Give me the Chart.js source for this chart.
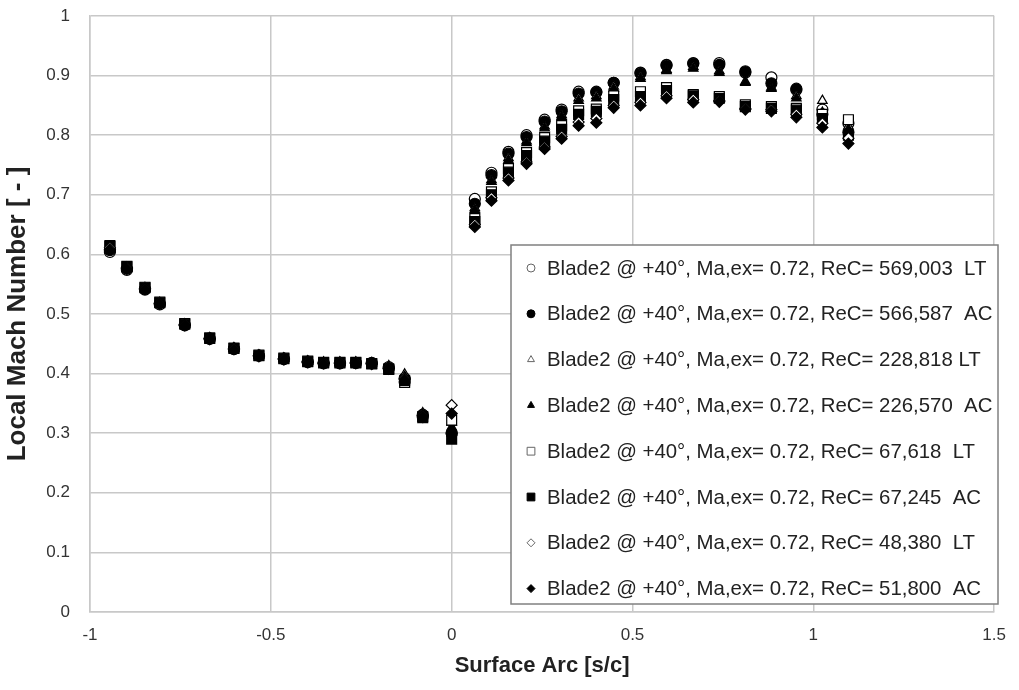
<!DOCTYPE html>
<html>
<head>
<meta charset="utf-8">
<script src="https://cdn.jsdelivr.net/npm/chart.js@4"></script>
<style>
  html, body { margin: 0; padding: 0; background: #fff; }
  #wrap { width: 1019px; height: 690px; position: relative; }
</style>
</head>
<body>
<div id="wrap"><canvas id="chart"></canvas></div>
<script>
// Local Mach number along the blade surface arc, 8 test runs
const arcX = [-0.945, -0.898, -0.848, -0.807, -0.738, -0.669, -0.602, -0.533, -0.464,
  -0.398, -0.354, -0.309, -0.265, -0.221, -0.174, -0.130, -0.080, 0.000,
  0.064, 0.110, 0.157, 0.207, 0.257, 0.304, 0.351, 0.400, 0.448,
  0.522, 0.594, 0.668, 0.740, 0.812, 0.884, 0.953, 1.025, 1.097];

const maLT569 = [0.604, 0.574, 0.541, 0.516, 0.481, 0.458, 0.441, 0.430, 0.424,
  0.419, 0.417, 0.417, 0.418, 0.418, 0.411, 0.386, 0.327, 0.300,
  0.693, 0.737, 0.772, 0.800, 0.826, 0.843, 0.873, 0.873, 0.888,
  0.905, 0.918, 0.921, 0.921, 0.905, 0.897, 0.876, 0.843, 0.820];
const maAC566 = [0.607, 0.576, 0.542, 0.518, 0.482, 0.459, 0.442, 0.430, 0.425,
  0.420, 0.418, 0.418, 0.418, 0.417, 0.409, 0.392, 0.331, 0.300,
  0.685, 0.733, 0.769, 0.797, 0.823, 0.840, 0.870, 0.872, 0.888,
  0.904, 0.917, 0.920, 0.918, 0.907, 0.887, 0.878, 0.835, 0.805];
const maLT228 = [0.612, 0.578, 0.544, 0.519, 0.483, 0.460, 0.443, 0.431, 0.426,
  0.421, 0.419, 0.419, 0.419, 0.418, 0.413, 0.399, 0.334, 0.318,
  0.678, 0.725, 0.762, 0.790, 0.815, 0.834, 0.862, 0.866, 0.882,
  0.898, 0.910, 0.915, 0.908, 0.890, 0.880, 0.866, 0.858, 0.815];
const maAC226 = [0.609, 0.577, 0.543, 0.518, 0.482, 0.459, 0.442, 0.430, 0.425,
  0.420, 0.418, 0.418, 0.418, 0.417, 0.410, 0.395, 0.331, 0.310,
  0.675, 0.722, 0.758, 0.787, 0.812, 0.831, 0.858, 0.862, 0.878,
  0.895, 0.908, 0.912, 0.905, 0.888, 0.878, 0.862, 0.838, 0.810];
const maLT67 = [0.615, 0.580, 0.545, 0.520, 0.484, 0.460, 0.443, 0.431, 0.426,
  0.421, 0.419, 0.419, 0.419, 0.417, 0.408, 0.385, 0.326, 0.322,
  0.660, 0.705, 0.744, 0.771, 0.796, 0.816, 0.841, 0.844, 0.866,
  0.873, 0.880, 0.868, 0.865, 0.851, 0.848, 0.845, 0.835, 0.826];
const maAC67 = [0.613, 0.579, 0.544, 0.519, 0.483, 0.459, 0.442, 0.430, 0.425,
  0.420, 0.418, 0.418, 0.418, 0.416, 0.407, 0.388, 0.328, 0.290,
  0.655, 0.700, 0.738, 0.766, 0.790, 0.810, 0.835, 0.840, 0.860,
  0.865, 0.875, 0.866, 0.862, 0.848, 0.845, 0.842, 0.828, 0.800];
const maLT48 = [0.611, 0.578, 0.543, 0.518, 0.482, 0.459, 0.442, 0.430, 0.425,
  0.420, 0.418, 0.418, 0.418, 0.417, 0.409, 0.392, 0.330, 0.347,
  0.650, 0.695, 0.728, 0.755, 0.780, 0.798, 0.822, 0.828, 0.850,
  0.855, 0.866, 0.860, 0.858, 0.845, 0.843, 0.835, 0.820, 0.795];
const maAC51 = [0.608, 0.576, 0.542, 0.517, 0.481, 0.458, 0.441, 0.429, 0.424,
  0.419, 0.417, 0.417, 0.417, 0.416, 0.408, 0.390, 0.329, 0.333,
  0.646, 0.690, 0.724, 0.752, 0.777, 0.794, 0.816, 0.821, 0.846,
  0.850, 0.862, 0.855, 0.856, 0.843, 0.840, 0.830, 0.813, 0.786];

const seriesLabels = [
  'Blade2 @ +40°, Ma,ex= 0.72, ReC= 569,003  LT',
  'Blade2 @ +40°, Ma,ex= 0.72, ReC= 566,587  AC',
  'Blade2 @ +40°, Ma,ex= 0.72, ReC= 228,818 LT',
  'Blade2 @ +40°, Ma,ex= 0.72, ReC= 226,570  AC',
  'Blade2 @ +40°, Ma,ex= 0.72, ReC= 67,618  LT',
  'Blade2 @ +40°, Ma,ex= 0.72, ReC= 67,245  AC',
  'Blade2 @ +40°, Ma,ex= 0.72, ReC= 48,380  LT',
  'Blade2 @ +40°, Ma,ex= 0.72, ReC= 51,800  AC'
];
const seriesValues = [maLT569, maAC566, maLT228, maAC226, maLT67, maAC67, maLT48, maAC51];
const markerStyles = ['circle', 'circle', 'triangle', 'triangle', 'rect', 'rect', 'rectRot', 'rectRot'];
const markerHollow = [true, false, true, false, true, false, true, false];

const xTicks = [-1, -0.5, 0, 0.5, 1, 1.5];

const FONT = "'Liberation Sans', Arial, sans-serif";

const datasets = seriesValues.map((vals, i) => {
  const style = markerStyles[i];
  const r = style === 'rect' ? 7 : 5.5;
  return {
    label: seriesLabels[i],
    data: vals.map((v, k) => ({ x: arcX[k], y: v })),
    showLine: false,
    pointStyle: style,
    pointRadius: r,
    pointHoverRadius: r,
    pointBorderWidth: 1.2,
    pointBorderColor: '#000',
    pointBackgroundColor: markerHollow[i] ? '#fff' : '#000',
    order: seriesValues.length - i   // later series drawn on top, like the original
  };
});

// legend drawn inside the plot area (lower right box)
const boxLegend = {
  id: 'boxLegend',
  afterDraw(chart) {
    const ctx = chart.ctx;
    const left = 511, top = 245, right = 998, bottom = 604;
    const rowTop = 268, rowStep = 45.8;
    ctx.save();
    ctx.fillStyle = '#fff';
    ctx.fillRect(left, top, right - left, bottom - top);
    ctx.strokeStyle = '#808080';
    ctx.lineWidth = 1.5;
    ctx.strokeRect(left, top, right - left, bottom - top);
    ctx.font = '20.4px ' + FONT;
    ctx.textBaseline = 'middle';
    ctx.textAlign = 'left';
    chart.data.datasets.forEach((ds, i) => {
      const y = rowTop + i * rowStep;
      ctx.fillStyle = markerHollow[i] ? '#fff' : '#000';
      ctx.strokeStyle = markerHollow[i] ? '#666' : '#000';
      ctx.lineWidth = 1;
      Chart.helpers.drawPoint(ctx, {
        pointStyle: ds.pointStyle,
        radius: ds.pointStyle === 'rect' ? 5.5 : 4,
        borderWidth: 1,
        rotation: 0
      }, 531, y);
      ctx.fillStyle = '#222';
      ctx.fillText(ds.label, 547, y + 1);
    });
    ctx.restore();
  }
};

new Chart(document.getElementById('chart'), {
  type: 'scatter',
  data: { datasets },
  options: {
    responsive: true,
    maintainAspectRatio: false,
    animation: false,
    events: [],
    layout: { padding: { top: 16, right: 24, bottom: 0, left: 0 } },
    scales: {
      x: {
        type: 'linear',
        min: -1,
        max: 1.5,
        afterBuildTicks: scale => { scale.ticks = xTicks.map(v => ({ value: v })); },
        afterFit: scale => { scale.height = 78; },
        ticks: {
          color: '#333',
          font: { family: FONT, size: 17 },
          padding: 13,
          callback: v => String(v)
        },
        grid: { color: '#c8c8c8', lineWidth: 1.5, drawTicks: false },
        border: { color: '#c8c8c8', width: 1.5 },
        title: {
          display: true,
          text: 'Surface Arc [s/c]',
          color: '#222',
          font: { family: FONT, size: 22, weight: 'bold' },
          padding: { top: 0, bottom: 11 }
        }
      },
      y: {
        min: 0,
        max: 1,
        ticks: {
          stepSize: 0.1,
          color: '#333',
          font: { family: FONT, size: 17 },
          padding: 20,
          callback: v => String(Math.round(v * 10) / 10)
        },
        afterFit: scale => {
          scale.width = 90;
          scale.paddingTop = 0;
          scale.paddingBottom = 0;
        },
        grid: { color: '#c8c8c8', lineWidth: 1.5, drawTicks: false },
        border: { color: '#c8c8c8', width: 1.5 },
        title: {
          display: true,
          text: 'Local Mach Number [ - ]',
          color: '#222',
          font: { family: FONT, size: 26, weight: 'bold' },
          padding: { top: 2, bottom: 0 }
        }
      }
    },
    plugins: {
      legend: { display: false },
      tooltip: { enabled: false }
    }
  },
  plugins: [boxLegend]
});
</script>
</body>
</html>
